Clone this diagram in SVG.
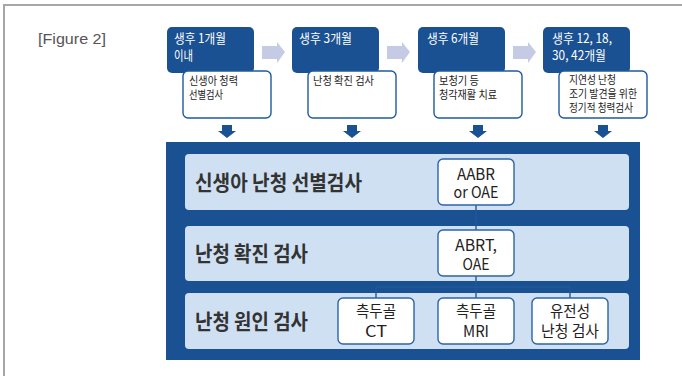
<svg xmlns="http://www.w3.org/2000/svg" width="682" height="381" viewBox="0 0 682 381">
<style>
.frame{stroke:#a6a6a6;stroke-width:2;fill:none}
.hdr{fill:#1a5193}
.note{fill:#fff;stroke:#1f5a9c;stroke-width:1.4}
.ht{font-family:"Noto Sans CJK KR","Noto Sans",sans-serif;font-size:13px;fill:#fff}
.nt{font-family:"Noto Sans CJK KR","Noto Sans",sans-serif;font-size:11px;fill:#222}
.band{fill:#1a5193}
.row{fill:#cfe0f2}
.rt{font-family:"Noto Sans CJK KR","Noto Sans",sans-serif;font-size:21px;font-weight:bold;fill:#333}
.box{fill:#fff;stroke:#2c64a6;stroke-width:1.4}
.bt{font-family:"Noto Sans CJK KR","Noto Sans",sans-serif;font-size:16px;fill:#222;text-anchor:middle}
.ra{fill:#c5cbe4}
.da{fill:#1a5193}
.con{stroke:#22589a;stroke-width:1.4;fill:none}
</style>
<path class="frame" d="M4,376 V5 H682"/>
<text x="38" y="44" font-family="Liberation Sans, sans-serif" font-size="15.5" fill="#555" textLength="68" lengthAdjust="spacingAndGlyphs">[Figure 2]</text>

<g id="step1">
<rect class="hdr" x="167" y="27" width="87" height="46" rx="5"/>
<text class="ht" x="174" y="43" textLength="52" lengthAdjust="spacingAndGlyphs">생후 1개월</text>
<text class="ht" x="174" y="60" textLength="19" lengthAdjust="spacingAndGlyphs">이내</text>
<rect class="note" x="183" y="71" width="88" height="47" rx="5"/>
<text class="nt" x="189" y="85" textLength="49" lengthAdjust="spacingAndGlyphs">신생아 청력</text>
<text class="nt" x="189" y="99" textLength="34" lengthAdjust="spacingAndGlyphs">선별검사</text>
</g>
<g id="step2">
<rect class="hdr" x="292" y="27" width="87" height="46" rx="5"/>
<text class="ht" x="299" y="43" textLength="53" lengthAdjust="spacingAndGlyphs">생후 3개월</text>
<rect class="note" x="308" y="71" width="88" height="47" rx="5"/>
<text class="nt" x="313" y="85" textLength="61" lengthAdjust="spacingAndGlyphs">난청 확진 검사</text>
</g>
<g id="step3">
<rect class="hdr" x="418" y="27" width="87" height="46" rx="5"/>
<text class="ht" x="427" y="43" textLength="52" lengthAdjust="spacingAndGlyphs">생후 6개월</text>
<rect class="note" x="434" y="71" width="88" height="47" rx="5"/>
<text class="nt" x="439" y="85" textLength="40" lengthAdjust="spacingAndGlyphs">보청기 등</text>
<text class="nt" x="439" y="99" textLength="58" lengthAdjust="spacingAndGlyphs">청각재활 치료</text>
</g>
<g id="step4">
<rect class="hdr" x="543" y="27" width="87" height="46" rx="5"/>
<text class="ht" x="552" y="43" textLength="60" lengthAdjust="spacingAndGlyphs">생후 12, 18,</text>
<text class="ht" x="552" y="60" textLength="54" lengthAdjust="spacingAndGlyphs">30, 42개월</text>
<rect class="note" x="559" y="71" width="88" height="47" rx="5"/>
<text class="nt" x="569" y="84" textLength="47" lengthAdjust="spacingAndGlyphs">지연성 난청</text>
<text class="nt" x="569" y="98" textLength="68" lengthAdjust="spacingAndGlyphs">조기 발견을 위한</text>
<text class="nt" x="569" y="112" textLength="64" lengthAdjust="spacingAndGlyphs">정기적 청력검사</text>
</g>

<g id="arrows">
<polygon class="ra" points="262,46 277,46 277,42 285,52 277,63 277,59 262,59"/>
<polygon class="ra" points="387,46 402,46 402,42 410,52 402,63 402,59 387,59"/>
<polygon class="ra" points="513,46 528,46 528,42 536,52 528,63 528,59 513,59"/>
<polygon class="da" points="222,125 232,125 232,131 236,131 227,138 218,131 222,131"/>
<polygon class="da" points="347,125 357,125 357,131 361,131 352,138 343,131 347,131"/>
<polygon class="da" points="473,125 483,125 483,131 487,131 478,138 469,131 473,131"/>
<polygon class="da" points="598,125 608,125 608,131 612,131 603,138 594,131 598,131"/>
</g>

<g id="panel">
<rect class="band" x="166" y="142" width="474" height="218"/>
<rect class="row" x="185" y="154" width="444" height="56" rx="4"/>
<rect class="row" x="185" y="226" width="444" height="55" rx="4"/>
<rect class="row" x="185" y="293" width="444" height="56" rx="4"/>
<text class="rt" x="195" y="190" textLength="167" lengthAdjust="spacingAndGlyphs">신생아 난청 선별검사</text>
<text class="rt" x="195" y="261" textLength="113" lengthAdjust="spacingAndGlyphs">난청 확진 검사</text>
<text class="rt" x="195" y="329" textLength="113" lengthAdjust="spacingAndGlyphs">난청 원인 검사</text>
</g>

<g id="connectors">
<line class="con" x1="476" y1="205" x2="476" y2="230"/>
<line class="con" x1="476" y1="276" x2="476" y2="298"/>
<path class="con" d="M376,298 V287 H570 V298"/>
</g>

<g id="aabr">
<rect class="box" x="438" y="159" width="76" height="46" rx="5"/>
<text class="bt" x="476" y="180" textLength="38" lengthAdjust="spacingAndGlyphs">AABR</text>
<text class="bt" x="476" y="198" textLength="45" lengthAdjust="spacingAndGlyphs">or OAE</text>
</g>
<g id="abrt">
<rect class="box" x="438" y="230" width="76" height="46" rx="5"/>
<text class="bt" x="476" y="251" textLength="42" lengthAdjust="spacingAndGlyphs">ABRT,</text>
<text class="bt" x="476" y="270" textLength="27" lengthAdjust="spacingAndGlyphs">OAE</text>
</g>
<g id="ct">
<rect class="box" x="338" y="298" width="76" height="46" rx="5"/>
<text class="bt" x="376" y="317" textLength="40" lengthAdjust="spacingAndGlyphs">측두골</text>
<text class="bt" x="376" y="337" textLength="22" lengthAdjust="spacingAndGlyphs">CT</text>
</g>
<g id="mri">
<rect class="box" x="438" y="298" width="76" height="46" rx="5"/>
<text class="bt" x="476" y="317" textLength="40" lengthAdjust="spacingAndGlyphs">측두골</text>
<text class="bt" x="476" y="337" textLength="26" lengthAdjust="spacingAndGlyphs">MRI</text>
</g>
<g id="genetic">
<rect class="box" x="532" y="298" width="76" height="46" rx="5"/>
<text class="bt" x="570" y="317" textLength="40" lengthAdjust="spacingAndGlyphs">유전성</text>
<text class="bt" x="570" y="337" textLength="58" lengthAdjust="spacingAndGlyphs">난청 검사</text>
</g>
</svg>
